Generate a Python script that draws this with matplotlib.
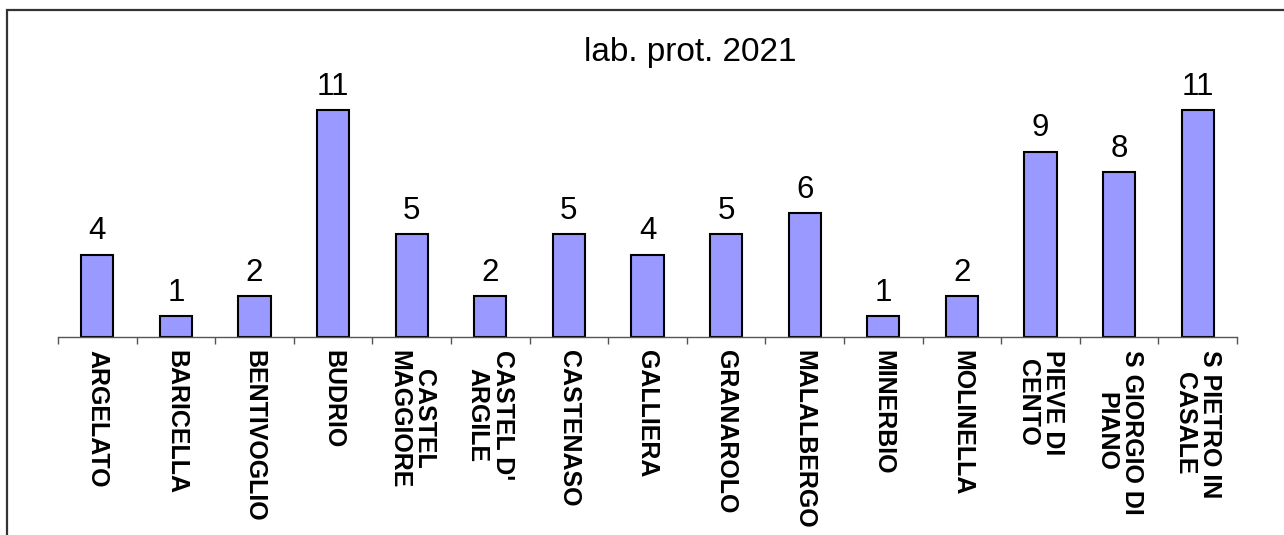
import matplotlib.pyplot as plt
from matplotlib.patches import Rectangle

# data
comuni = ["ARGELATO", "BARICELLA", "BENTIVOGLIO", "BUDRIO", "CASTEL\nMAGGIORE",
          "CASTEL D'\nARGILE", "CASTENASO", "GALLIERA", "GRANAROLO", "MALALBERGO",
          "MINERBIO", "MOLINELLA", "PIEVE DI\nCENTO", "S GIORGIO DI\nPIANO",
          "S PIETRO IN\nCASALE"]
valori = [4, 1, 2, 11, 5, 2, 5, 4, 5, 6, 1, 2, 9, 8, 11]
titolo = "lab. prot. 2021"

plt.rcParams['font.family'] = ['Liberation Sans', 'DejaVu Sans']

W, H = 1284, 535
fig = plt.figure(figsize=(W / 100, H / 100), dpi=100)

# plot area in pixels (left, baseline, right, px per unit)
x0, x1 = 58, 1237
base = 337
ppu = 20.6
ymax = 12
ax = fig.add_axes([x0 / W, (H - base) / H, (x1 - x0) / W, ymax * ppu / H])

pos = list(range(len(comuni)))
ax.bar(pos, valori, width=0.41, color="#9999FF", edgecolor="black", linewidth=1.5, zorder=2)
ax.set_xlim(-0.5, len(comuni) - 0.5)
ax.set_ylim(0, ymax)

for x, v in zip(pos, valori):
    ax.annotate(str(v), (x, v), xytext=(0, 11), textcoords="offset points",
                ha="center", va="baseline", fontsize=22.5)

for s in ["top", "right", "left"]:
    ax.spines[s].set_visible(False)
ax.spines["bottom"].set_color("#555555")
ax.spines["bottom"].set_linewidth(1.0)
ax.set_yticks([])

ax.set_xticks(pos)
ax.set_xticklabels(comuni, rotation=270, fontsize=18, fontweight="bold",
                   va="top", ha="center", multialignment="center", linespacing=1.08)
ax.tick_params(axis="x", which="major", length=0, pad=9)
ax.set_xticks([p - 0.5 for p in pos] + [len(comuni) - 0.5], minor=True)
ax.tick_params(axis="x", which="minor", length=5, width=1.0, color="#555555")

fig.text(690 / W, 1 - 61 / H, titolo, ha="center", va="baseline", fontsize=24)

# outer frame (only left and top visible in the crop)
fig.patches.append(Rectangle((7 / W, -0.1), 1.2, 1 - 10 / H + 0.1, transform=fig.transFigure,
                             fill=False, edgecolor="#333333", linewidth=1.6))

fig.savefig("out.png", dpi=100)
